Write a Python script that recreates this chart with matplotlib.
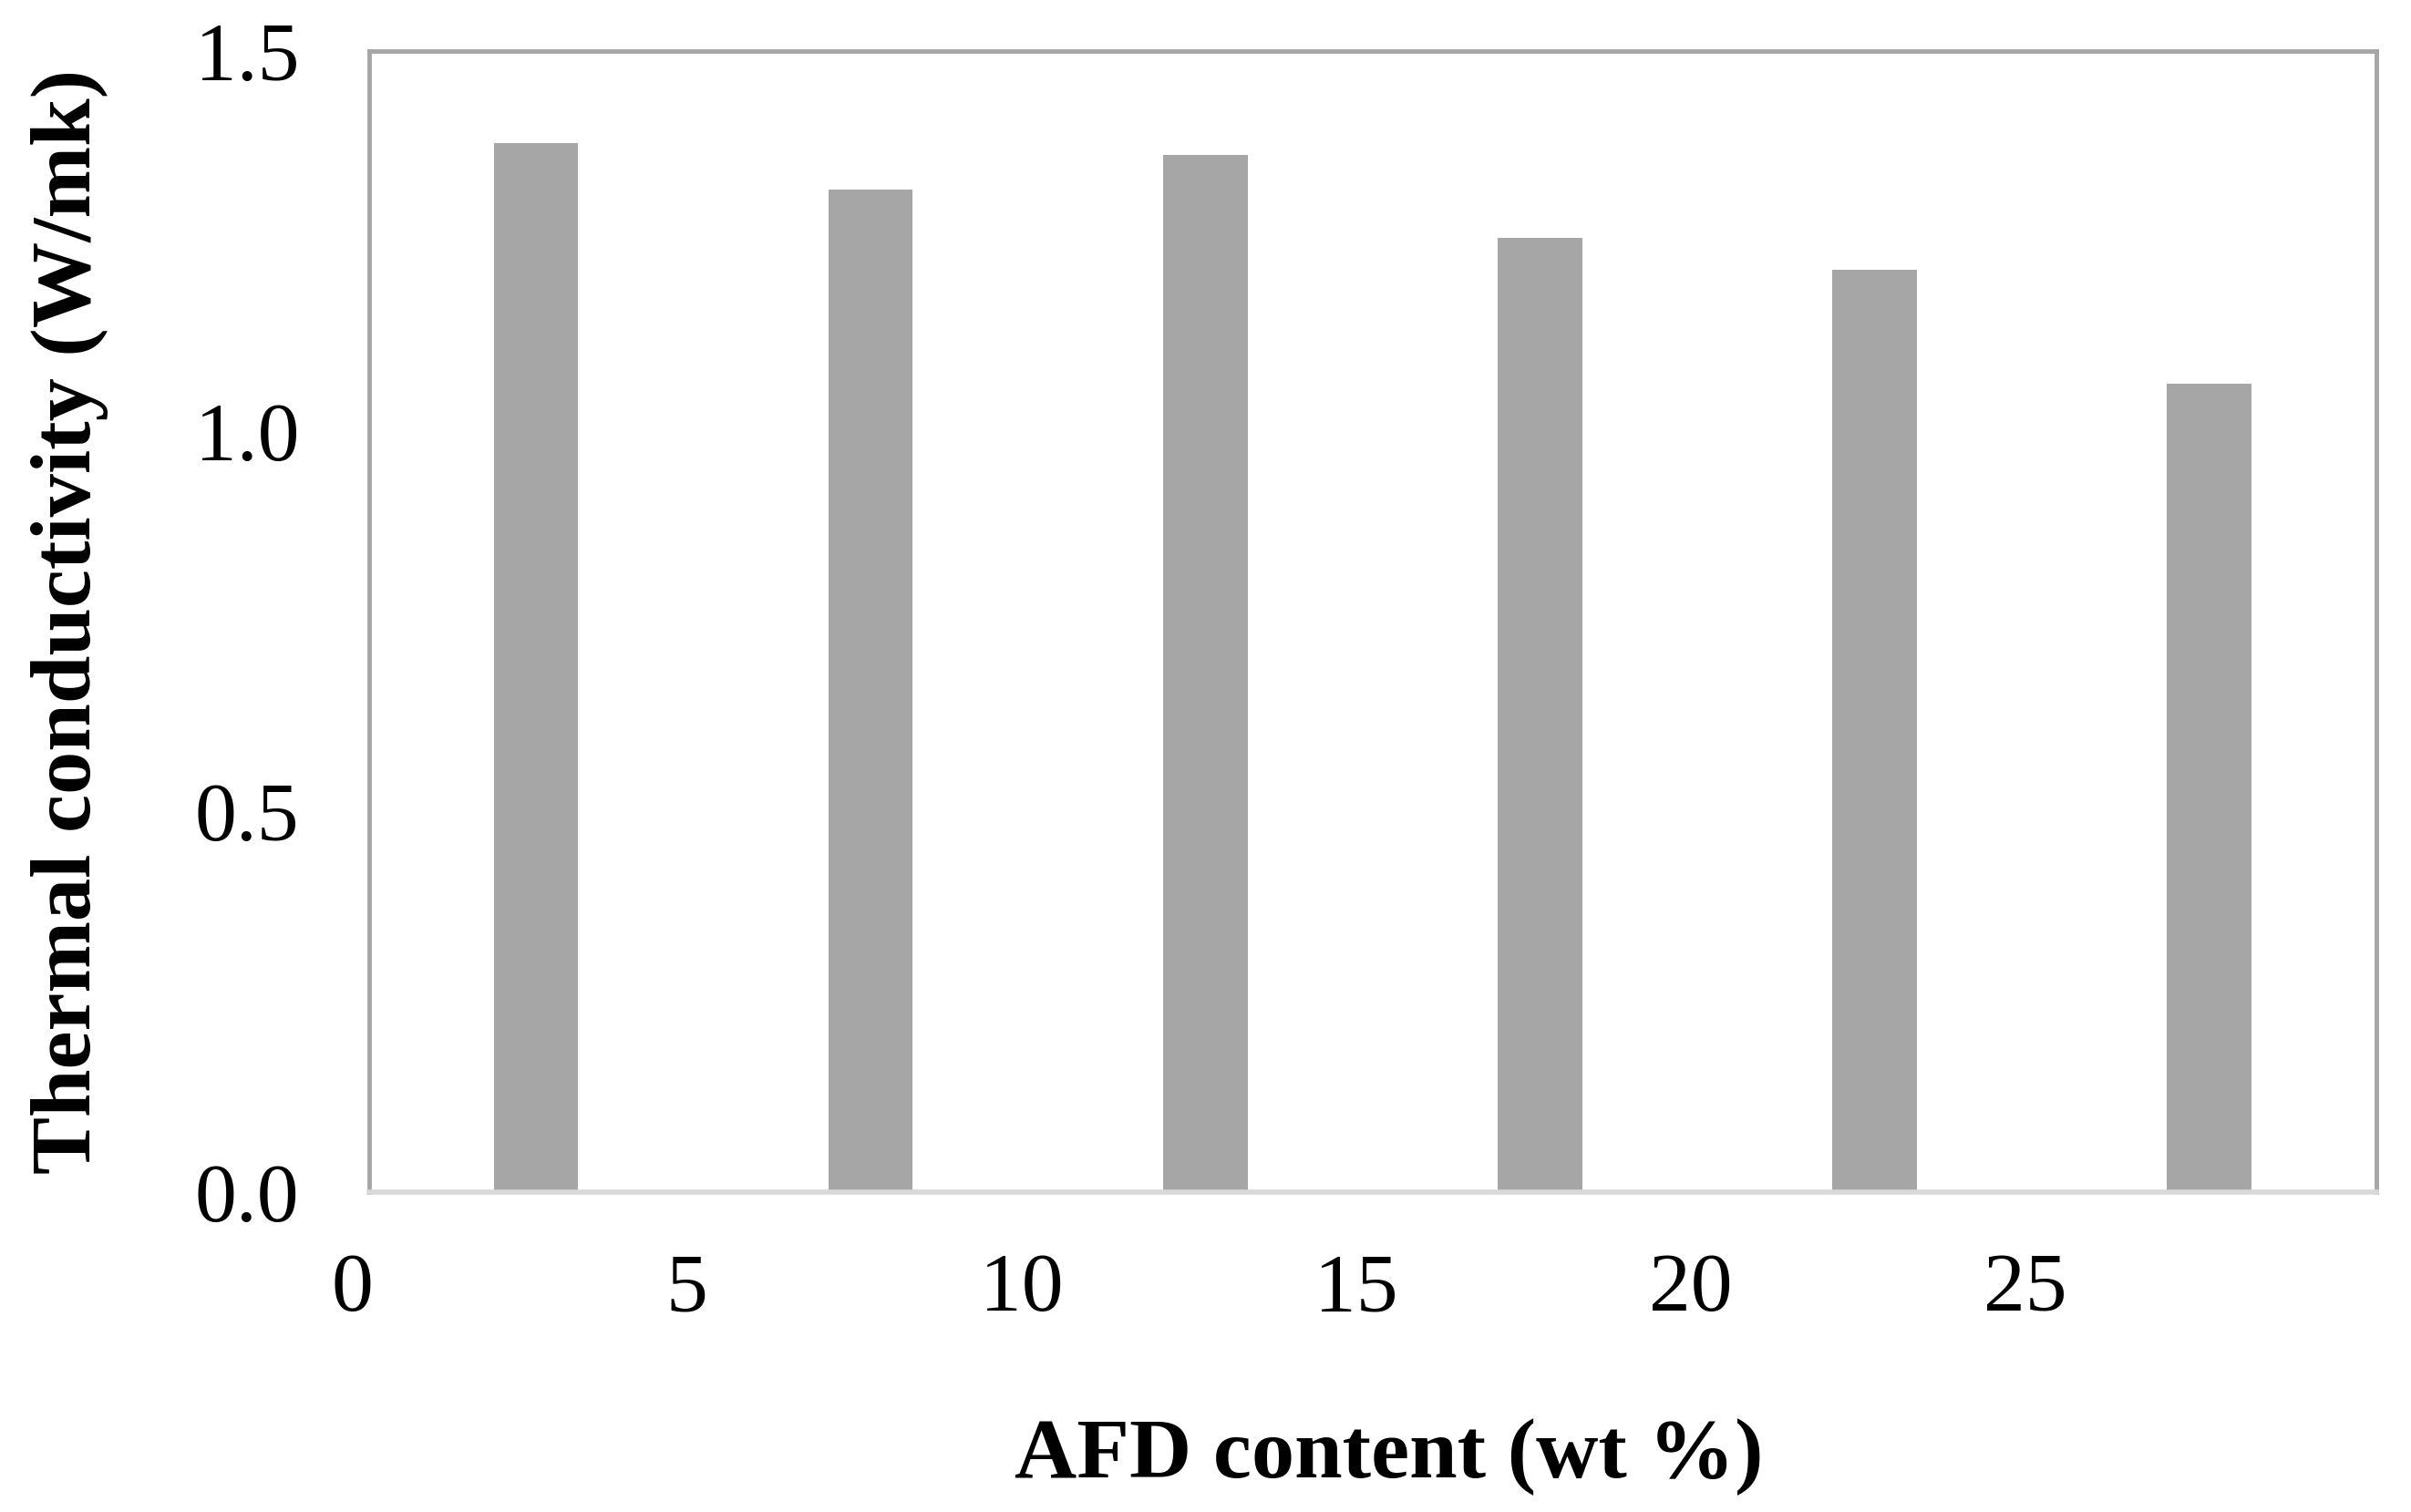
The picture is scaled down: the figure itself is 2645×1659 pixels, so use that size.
import numpy as np
import matplotlib.pyplot as plt
from matplotlib.transforms import ScaledTranslation

# datos
content = [2.5, 7.5, 12.5, 17.5, 22.5, 27.5]
conductivity = [1.379, 1.318, 1.364, 1.255, 1.213, 1.063]
x_ticks = [0, 5, 10, 15, 20, 25]
y_ticks = [0.0, 0.5, 1.0, 1.5]

plt.rcParams['font.family'] = ['Liberation Serif', 'DejaVu Serif']

fig = plt.figure(figsize=(26.45, 16.59), dpi=100)
ax = fig.add_axes([0.153, 0.2116, 0.8326, 0.7546])

ax.bar(content, conductivity, width=1.26, color='#a6a6a6', edgecolor='none')

ax.set_xlim(0, 30)
ax.set_ylim(0, 1.5)
ax.set_xticks(x_ticks)
ax.set_xticklabels([str(v) for v in x_ticks])
ax.set_yticks(y_ticks)
ax.set_yticklabels([f'{v:.1f}' for v in y_ticks])
ax.tick_params(axis='both', length=0, labelsize=66)
ax.tick_params(axis='x', pad=48)
ax.tick_params(axis='y', pad=55)

# etiquetas del eje x un poco a la izquierda, como en Excel
shift = ScaledTranslation(-0.18, 0, fig.dpi_scale_trans)
for lbl in ax.get_xticklabels():
    lbl.set_transform(lbl.get_transform() + shift)

for s in ['top', 'left', 'right']:
    ax.spines[s].set_color('#a6a6a6')
    ax.spines[s].set_linewidth(3.5)
ax.spines['bottom'].set_color('#d9d9d9')
ax.spines['bottom'].set_linewidth(4)

ax.set_xlabel('AFD content (wt %)', fontsize=68, fontweight='bold')
ax.xaxis.set_label_coords(0.508, -0.198)
ax.set_ylabel('Thermal conductivity (W/mk)', fontsize=68, fontweight='bold', labelpad=68)

fig.savefig('out.png', dpi=100)
